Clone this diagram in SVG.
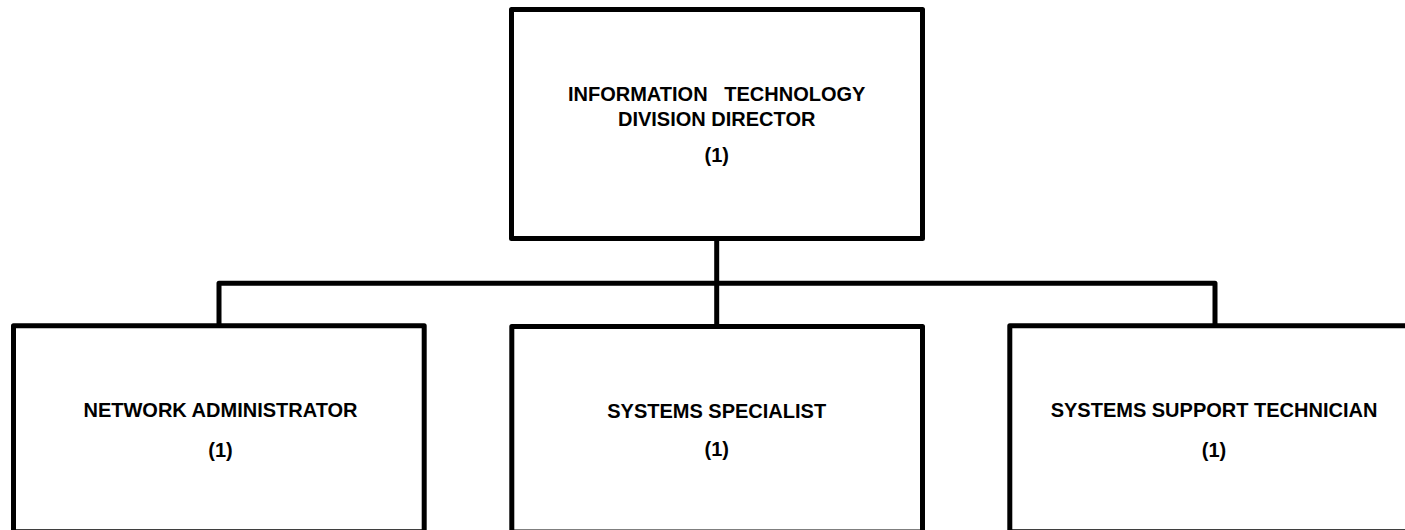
<svg xmlns="http://www.w3.org/2000/svg" width="1405" height="530" viewBox="0 0 1405 530">
<style>
.box{fill:#fff;stroke:#000;stroke-width:5;stroke-linejoin:round}
.conn{fill:none;stroke:#000;stroke-width:5;stroke-linejoin:round}
.t{font-family:"Liberation Sans",Arial,sans-serif;font-weight:bold;font-size:20px;fill:#000;text-anchor:middle;white-space:pre}
</style>
<rect width="1405" height="530" fill="#fff"/>
<g id="connectors">
<path class="conn" d="M716.7,238.5 V326"/>
<path class="conn" d="M219,326 V283.3 H1215 V326"/>
</g>
<g id="director">
<rect class="box" x="511.5" y="9.5" width="411" height="229"/>
<text class="t" x="716.7" y="100.5" xml:space="preserve">INFORMATION   TECHNOLOGY</text>
<text class="t" x="716.7" y="126">DIVISION DIRECTOR</text>
<text class="t" x="716.7" y="162">(1)</text>
</g>
<g id="network-admin">
<rect class="box" x="13.5" y="325.8" width="410.7" height="206"/>
<text class="t" x="220.5" y="417">NETWORK ADMINISTRATOR</text>
<text class="t" x="220.5" y="456.5">(1)</text>
</g>
<g id="systems-specialist">
<rect class="box" x="511.8" y="326.5" width="410.7" height="205.5"/>
<text class="t" x="716.7" y="417.5">SYSTEMS SPECIALIST</text>
<text class="t" x="716.7" y="456">(1)</text>
</g>
<g id="support-tech">
<rect class="box" x="1009.8" y="325.8" width="410" height="206"/>
<text class="t" x="1214" y="417">SYSTEMS SUPPORT TECHNICIAN</text>
<text class="t" x="1214" y="456.5">(1)</text>
</g>
</svg>
